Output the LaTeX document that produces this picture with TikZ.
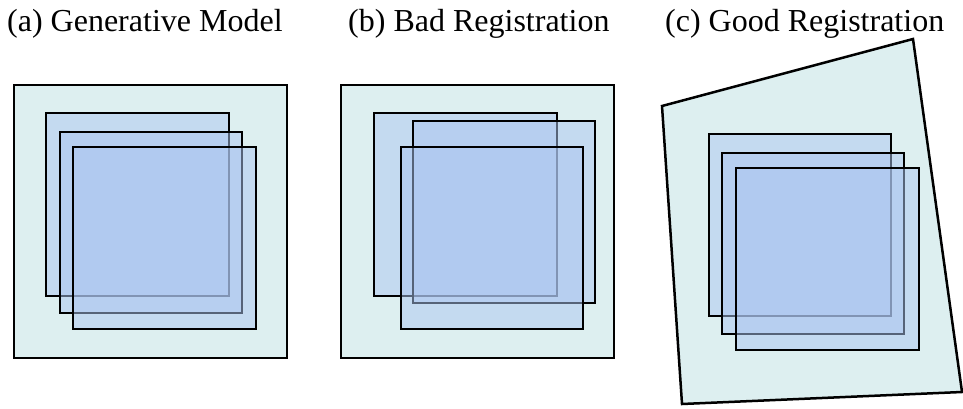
\documentclass[tikz,border=0pt]{standalone}
\usepackage{fontspec}
\setmainfont{Liberation Serif}
\newfontfamily\titlefont{Liberation Serif}
\begin{document}
\begin{tikzpicture}[x=1pt,y=-1pt,
  outerbox/.style={draw=black,line width=2.5pt,fill={rgb,255:red,221;green,239;blue,240}},
  layer/.style={draw=black,line width=2.5pt,fill={rgb,255:red,172;green,198;blue,240},fill opacity=0.5},
  title/.style={anchor=base west,inner sep=0pt,font=\titlefont\fontsize{32}{36}\selectfont}]
\useasboundingbox (0,0) rectangle (963,409);
% titles
\node[title] (ta) at (7,32) {(a) Generative Model};
\node[title] (tb) at (348,32) {(b) Bad Registration};
\node[title] (tc) at (665,32) {(c) Good Registration};
% panel a
\draw[outerbox] (14,85) rectangle (287,358);
\draw[layer] (46,113) rectangle (229,296);
\draw[layer] (60,132) rectangle (242,313);
\draw[layer] (73,147) rectangle (256,329);
% panel b
\draw[outerbox] (341,85) rectangle (614,358);
\draw[layer] (374,113) rectangle (557,296);
\draw[layer] (413,121) rectangle (595,303);
\draw[layer] (401,147) rectangle (583,329);
% panel c
\draw[outerbox] (662,106) -- (913,39) -- (962,392) -- (682,404) -- cycle;
\draw[layer] (709,134) rectangle (891,316);
\draw[layer] (722,153) rectangle (904,334);
\draw[layer] (736,168) rectangle (919,350);
\end{tikzpicture}
\end{document}
